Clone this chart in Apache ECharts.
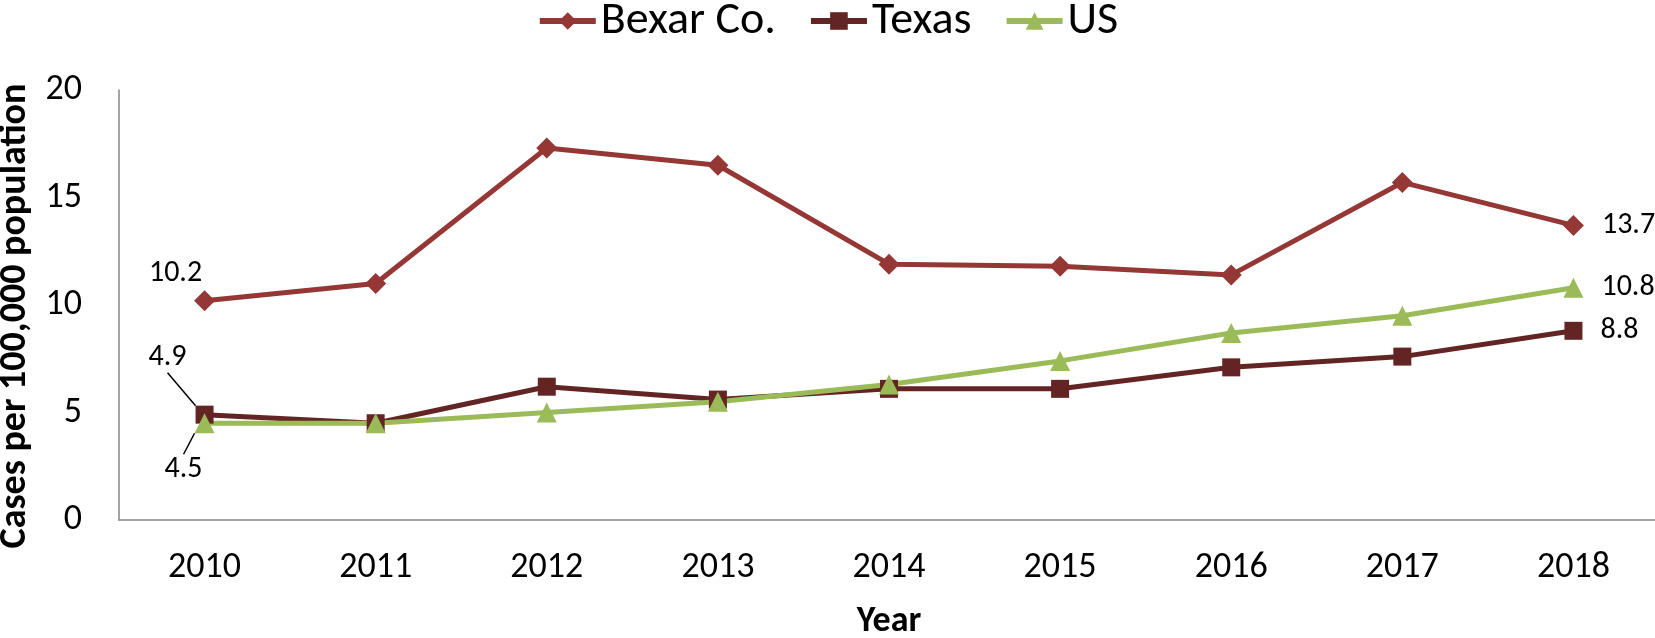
<!DOCTYPE html>
<html>
<head>
<meta charset="utf-8">
<script src="https://cdn.jsdelivr.net/npm/echarts@6/dist/echarts.min.js"></script>
<style>
  html, body { margin: 0; padding: 0; background: #fff; }
  #chart { width: 1655px; height: 638px; }
</style>
</head>
<body>
<div id="chart"></div>
<script>
const years = ['2010', '2011', '2012', '2013', '2014', '2015', '2016', '2017', '2018'];
const bexar = [10.2, 11.0, 17.3, 16.5, 11.9, 11.8, 11.4, 15.7, 13.7];
const texas = [4.9, 4.5, 6.2, 5.6, 6.1, 6.1, 7.1, 7.6, 8.8];
const us = [4.5, 4.5, 5.0, 5.5, 6.3, 7.4, 8.7, 9.5, 10.8];
const yTicks = { min: 0, max: 20, interval: 5 };

const font = 'Carlito, "Liberation Sans Narrow", "Liberation Sans", sans-serif';

// label only the first and last points, like the original
function withEndLabels(values, firstPos) {
  return values.map((v, i) => {
    if (i === values.length - 1) {
      return { value: v, label: { show: true, position: 'right', distance: 18 } };
    }
    if (i === 0 && firstPos) {
      return { value: v, label: { show: true, position: firstPos.pos, distance: firstPos.dist }, labelLine: { show: !!firstPos.line } };
    }
    return v;
  });
}

function series(name, values, color, symbol, size, firstPos, layout) {
  return {
    name: name,
    type: 'line',
    data: withEndLabels(values, firstPos),
    color: color,
    symbol: symbol,
    symbolSize: size,
    lineStyle: { width: 5, color: color },
    itemStyle: { color: color },
    label: { show: false, color: '#000', fontSize: 30, fontFamily: font, formatter: p => p.value.toFixed(1) },
    labelLine: { lineStyle: { color: '#000', width: 1.5 } },
    labelLayout: layout,
    z: 3
  };
}

const chart = echarts.init(document.getElementById('chart'));
chart.setOption({
  animation: false,
  textStyle: { fontFamily: font },
  legend: {
    top: -7,
    left: 'center',
    itemWidth: 56,
    itemHeight: 22,
    itemGap: 32,
    lineStyle: { width: 6 },
    textStyle: { fontSize: 46, color: '#000', fontFamily: font },
    data: ['Bexar Co.', 'Texas', 'US']
  },
  grid: { left: 119, right: -4, top: 90, bottom: 118, outerBoundsMode: 'none' },
  xAxis: {
    type: 'category',
    data: years,
    boundaryGap: true,
    name: 'Year',
    nameLocation: 'middle',
    nameGap: 84,
    nameTextStyle: { fontSize: 36, fontWeight: 'bold', color: '#000', fontFamily: font },
    axisLine: { lineStyle: { color: '#868686', width: 1.5 } },
    axisTick: { show: false },
    axisLabel: { fontSize: 36, color: '#000', margin: 30, fontFamily: font }
  },
  yAxis: {
    type: 'value',
    min: yTicks.min,
    max: yTicks.max,
    interval: yTicks.interval,
    name: 'Cases per 100,000 population',
    nameLocation: 'middle',
    nameGap: 78,
    nameTextStyle: { fontSize: 38, fontWeight: 'bold', color: '#000', fontFamily: font, padding: [0, 22, 0, 0] },
    axisLine: { show: true, lineStyle: { color: '#868686', width: 1.5 } },
    axisTick: { show: false },
    splitLine: { show: false },
    axisLabel: { fontSize: 36, color: '#000', margin: 37, fontFamily: font }
  },
  series: [
    series('Bexar Co.', bexar, '#953735', 'diamond', 21,
      { pos: 'top', dist: 10 },
      p => p.dataIndex === 0 ? { dx: -29, dy: 8 } : {}),
    series('Texas', texas, '#632523', 'rect', 18,
      { pos: 'top', dist: 4, line: true },
      p => p.dataIndex === 0 ? { dx: -37, dy: -29 } : {}),
    series('US', us, '#9BBB59', 'triangle', 20,
      { pos: 'bottom', dist: 4, line: true },
      p => p.dataIndex === 0 ? { dx: -21, dy: 17 } : {})
  ]
});
</script>
</body>
</html>
